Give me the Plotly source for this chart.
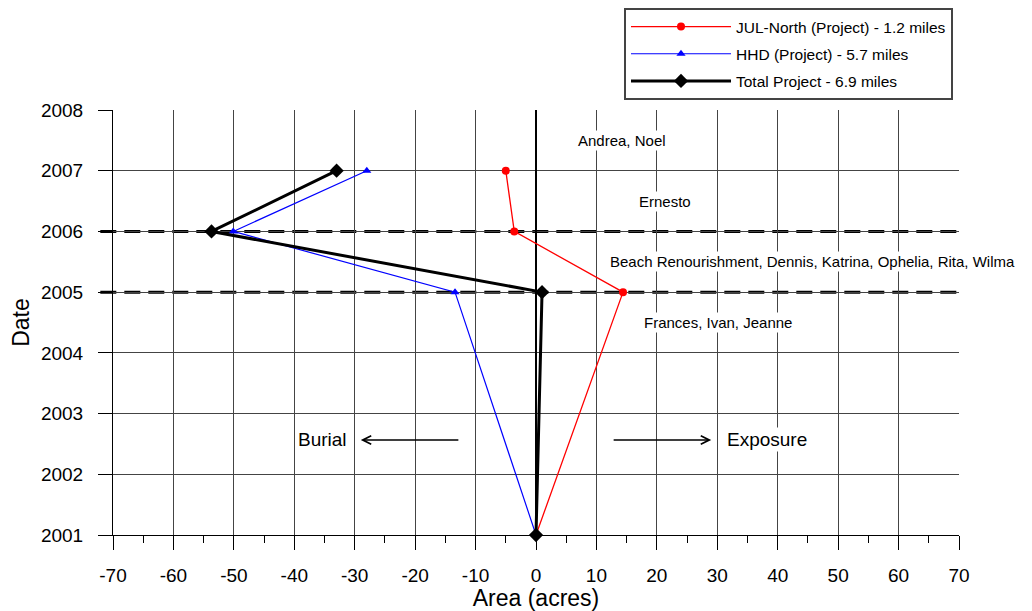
import plotly.graph_objects as go

years = [2001, 2005, 2006, 2007]
jul_north = [0, 14.4, -3.6, -5.0]
hhd = [0, -13.4, -50.1, -28.0]
total = [0, 1.0, -53.7, -33.0]

names = ["JUL-North (Project) - 1.2 miles", "HHD (Project) - 5.7 miles", "Total Project - 6.9 miles"]

x_ticks = list(range(-70, 71, 10))
x_labels = [str(v) for v in x_ticks]
y_ticks = list(range(2001, 2009))
y_labels = [str(v) for v in y_ticks]

storm_labels = [
    (14.3, 2007.5, "Andrea, Noel"),
    (21.3, 2006.5, "Ernesto"),
    (45.8, 2005.5, "Beach Renourishment, Dennis, Katrina, Ophelia, Rita, Wilma"),
    (30.2, 2004.5, "Frances, Ivan, Jeanne"),
]
event_years = [2005, 2006]

FONT = "Liberation Sans, Arial, sans-serif"

fig = go.Figure()
fig.add_trace(go.Scatter(x=jul_north, y=years, name=names[0], mode="lines+markers", legendgroup="a",
                         line=dict(color="#ff0000", width=1.3),
                         marker=dict(symbol="circle", size=8, color="#ff0000"), cliponaxis=False))
fig.add_trace(go.Scatter(x=hhd, y=years, name=names[1], mode="lines+markers", legendgroup="b",
                         line=dict(color="#0000ff", width=1.2),
                         marker=dict(symbol="triangle-up", size=8, color="#0000ff"), cliponaxis=False))
fig.add_trace(go.Scatter(x=total, y=years, name=names[2], mode="lines+markers", legendgroup="c",
                         line=dict(color="#000000", width=3),
                         marker=dict(symbol="diamond", size=11, color="#000000"), cliponaxis=False))

for ey in event_years:
    fig.add_shape(type="line", xref="paper", yref="y", x0=-0.015, x1=1.0, y0=ey, y1=ey,
                  line=dict(color="black", width=3, dash="16px,8px"), layer="below")

for xv, yv, t in storm_labels:
    fig.add_annotation(x=xv, y=yv, text=t, showarrow=False, bgcolor="white",
                       font=dict(size=15, color="black", family=FONT))

fig.add_annotation(x=-29, y=2002.565, ax=-12.6, ay=2002.565, axref="x", ayref="y", xref="x", yref="y",
                   text="", showarrow=True, arrowhead=5, arrowsize=1.3, arrowwidth=1.3, arrowcolor="black")
fig.add_annotation(x=29, y=2002.565, ax=12.6, ay=2002.565, axref="x", ayref="y", xref="x", yref="y",
                   text="", showarrow=True, arrowhead=5, arrowsize=1.3, arrowwidth=1.3, arrowcolor="black")
fig.add_annotation(x=-30.9, y=2002.565, text="Burial", showarrow=False, xanchor="right",
                   bgcolor="white", font=dict(size=19, color="black", family=FONT))
fig.add_annotation(x=31.2, y=2002.565, text="Exposure", showarrow=False, xanchor="left",
                   bgcolor="white", font=dict(size=19, color="black", family=FONT))

fig.update_layout(
    width=1024, height=603,
    margin=dict(l=105, r=73, t=102, b=76, autoexpand=False),
    paper_bgcolor="white", plot_bgcolor="white",
    font=dict(family=FONT, color="black"),
    showlegend=True,
    legend=dict(xref="container", yref="container", x=616 / 1024, y=1.0,
                xanchor="left", yanchor="top", traceorder="grouped", tracegroupgap=4,
                bordercolor="#444", borderwidth=2, bgcolor="white",
                font=dict(size=15.5, family=FONT), itemwidth=100),
    xaxis=dict(range=[-70, 70], tickvals=x_ticks, ticktext=x_labels, ticks="outside", ticklen=14, tickwidth=1,
               tickcolor="black", showgrid=True, gridcolor="#444", gridwidth=1, automargin=False,
               zeroline=True, zerolinecolor="black", zerolinewidth=2,
               showline=True, linecolor="black", linewidth=1, ticklabelstandoff=9,
               minor=dict(dtick=5, ticks="outside", ticklen=7, tickcolor="black", showgrid=False),
               tickfont=dict(size=19), title=dict(text="Area (acres)", font=dict(size=23), standoff=3)),
    yaxis=dict(range=[2001, 2008], tickvals=y_ticks, ticktext=y_labels, ticks="outside", ticklen=14, tickwidth=1,
               tickcolor="black", showgrid=True, gridcolor="#444", gridwidth=1, automargin=False,
               showline=True, linecolor="black", linewidth=1, zeroline=False, ticklabelstandoff=11,
               tickfont=dict(size=19), title=dict(text="Date", font=dict(size=23), standoff=8)),
)

fig.write_html("out.html")
